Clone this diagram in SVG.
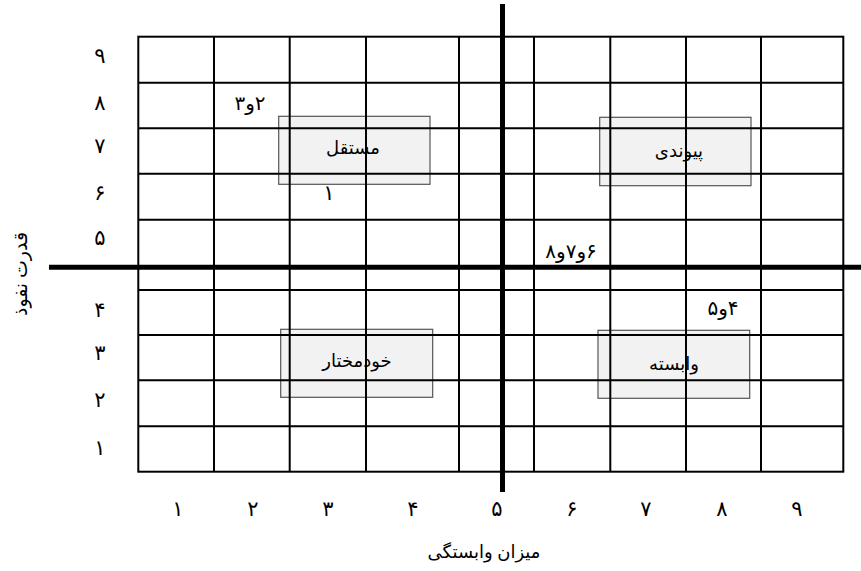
<svg xmlns="http://www.w3.org/2000/svg" width="861" height="571" viewBox="0 0 861 571">
<style>
.g{stroke:#000;stroke-width:2;fill:none}
.ax{stroke:#000;stroke-width:5}
.box{fill:#f2f2f2;stroke:#555;stroke-width:1.2}
text{font-family:"Liberation Serif","DejaVu Sans",serif;fill:#000}
.d{font-size:21px;text-anchor:middle}
.l{font-size:18px;text-anchor:middle;direction:rtl}
.p{font-size:20px;text-anchor:middle;direction:rtl}
</style>
<rect width="861" height="571" fill="#fff"/>
<g id="box-mostaghel"><rect class="box" x="278.7" y="116.3" width="151.3" height="68"/></g>
<g id="box-peyvandi"><rect class="box" x="599.7" y="117.3" width="151.3" height="68.4"/></g>
<g id="box-khodmokhtar"><rect class="box" x="280.7" y="329.3" width="152" height="68"/></g>
<g id="box-vabasteh"><rect class="box" x="598" y="330.3" width="151.7" height="68"/></g>
<g id="grid">
<rect class="g" x="138.3" y="36.7" width="705" height="435"/>
<path class="g" d="M214 36.7V471.7M289.7 36.7V471.7M366 36.7V471.7M459 36.7V471.7M534 36.7V471.7M610.3 36.7V471.7M686 36.7V471.7M761 36.7V471.7"/>
<path class="g" d="M138.3 82.7H843.3M138.3 128.3H843.3M138.3 173.7H843.3M138.3 219.7H843.3M138.3 290H843.3M138.3 335H843.3M138.3 380.3H843.3M138.3 426.3H843.3"/>
</g>
<g id="connectors">
<line class="ax" x1="49" y1="267.3" x2="861" y2="267.3"/>
<line class="ax" x1="502.5" y1="4" x2="502.5" y2="492"/>
</g>
<g id="labels">
<text class="l" x="353" y="154">مستقل</text>
<text class="l" x="679" y="157">پیوندی</text>
<text class="l" x="357" y="367">خودمختار</text>
<text class="l" x="674" y="370">وابسته</text>
<text class="p" x="250" y="110">۲و۳</text>
<text class="d" x="329" y="200">۱</text>
<text class="p" x="571" y="258">۶و۷و۸</text>
<text class="p" x="723" y="315">۴و۵</text>
</g>
<g id="y-axis">
<text class="d" x="100" y="63">۹</text>
<text class="d" x="100" y="110">۸</text>
<text class="d" x="100" y="153">۷</text>
<text class="d" x="100" y="200">۶</text>
<text class="d" x="100" y="245">۵</text>
<text class="d" x="100" y="317">۴</text>
<text class="d" x="100" y="360">۳</text>
<text class="d" x="100" y="407">۲</text>
<text class="d" x="100" y="455">۱</text>
<text class="l" style="font-size:19px" transform="translate(27 274) rotate(-90)">قدرت نفوذ</text>
</g>
<g id="x-axis">
<text class="d" x="178" y="516">۱</text>
<text class="d" x="253" y="516">۲</text>
<text class="d" x="328" y="516">۳</text>
<text class="d" x="413" y="516">۴</text>
<text class="d" x="497" y="516">۵</text>
<text class="d" x="572" y="516">۶</text>
<text class="d" x="646" y="516">۷</text>
<text class="d" x="722" y="516">۸</text>
<text class="d" x="797" y="516">۹</text>
<text class="l" style="font-size:18px" x="484" y="558">میزان وابستگی</text>
</g>
</svg>
